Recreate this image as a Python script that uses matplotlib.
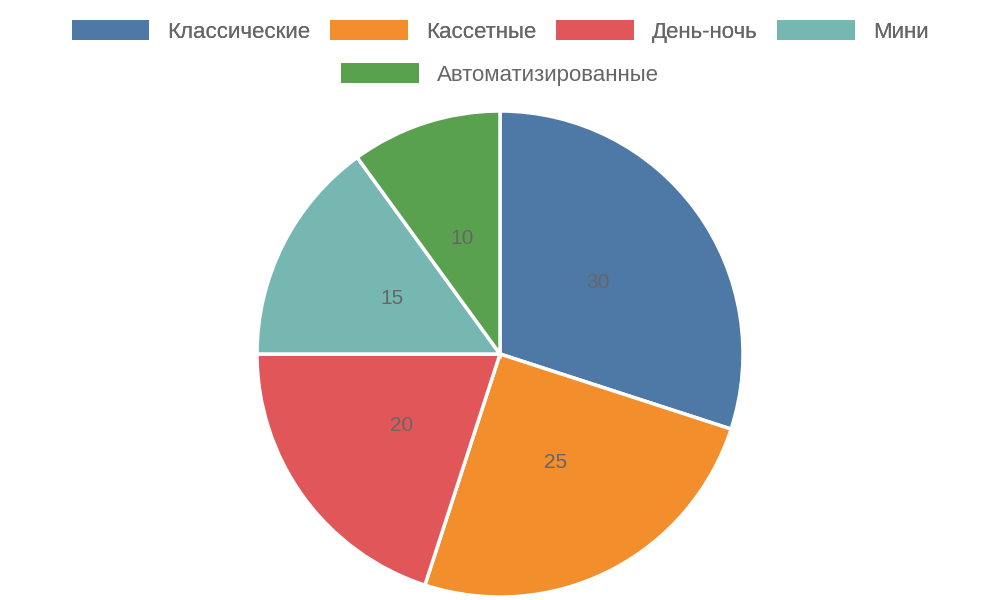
import matplotlib.pyplot as plt
from matplotlib.patches import Patch

labels = ["Классические", "Кассетные", "День-ночь", "Мини", "Автоматизированные"]
values = [30, 25, 20, 15, 10]
colors = ["#4e79a7", "#f28e2b", "#e15759", "#76b7b2", "#59a14f"]

plt.rcParams["font.family"] = ["Liberation Sans", "DejaVu Sans"]

fig = plt.figure(figsize=(10, 6), dpi=100)
ax = fig.add_axes([0.257, 0.005, 0.486, 0.81])

vals = iter(values)
ax.pie(
    values,
    colors=colors,
    startangle=90,
    counterclock=False,
    autopct=lambda p: str(next(vals)),
    pctdistance=0.5,
    wedgeprops=dict(edgecolor="white", linewidth=2.5),
    textprops=dict(color="#666666", fontsize=15),
)
ax.set_aspect("equal")
ax.set_xlim(-1, 1)
ax.set_ylim(-1, 1)

handles = [Patch(facecolor=c, edgecolor="none") for c in colors]
leg1 = fig.legend(handles[:4], labels[:4], loc="upper center", bbox_to_anchor=(0.5, 1.0),
                  ncol=4, frameon=False, fontsize=16, labelcolor="#666666",
                  handlelength=3.5, handleheight=1.0, columnspacing=0.9)
fig.add_artist(leg1)
fig.legend(handles[4:], labels[4:], loc="upper center", bbox_to_anchor=(0.5, 0.928),
           ncol=1, frameon=False, fontsize=16, labelcolor="#666666",
           handlelength=3.5, handleheight=1.0)

fig.savefig("out.png", dpi=100)
